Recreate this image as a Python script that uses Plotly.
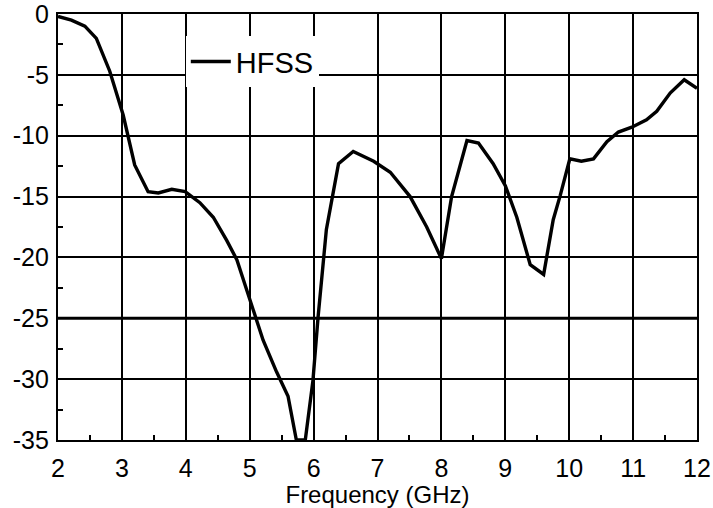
import plotly.graph_objects as go

freq = [2.0, 2.21, 2.42, 2.6, 2.81, 3.02, 3.2, 3.41, 3.57, 3.78, 3.99, 4.22, 4.43,
        4.64, 4.8, 5.0, 5.21, 5.42, 5.6, 5.73, 5.87, 5.99, 6.07, 6.2, 6.39, 6.62,
        6.94, 7.2, 7.51, 7.77, 8.0, 8.16, 8.4, 8.58, 8.81, 9.0, 9.18, 9.39, 9.6,
        9.75, 9.86, 10.01, 10.19, 10.38, 10.59, 10.77, 10.98, 11.21, 11.37, 11.58,
        11.8, 12.0]
s11 = [-0.2, -0.5, -1.0, -2.0, -4.7, -8.3, -12.4, -14.6, -14.7, -14.4, -14.6,
       -15.5, -16.7, -18.6, -20.2, -23.5, -26.8, -29.4, -31.4, -35.0, -35.0,
       -30.1, -24.9, -17.7, -12.3, -11.3, -12.1, -13.0, -15.0, -17.5, -20.1,
       -15.0, -10.4, -10.6, -12.3, -14.1, -16.7, -20.6, -21.4, -16.9, -14.9,
       -11.9, -12.1, -11.9, -10.5, -9.7, -9.3, -8.7, -8.0, -6.5, -5.4, -6.1]

x_ticks = [2, 3, 4, 5, 6, 7, 8, 9, 10, 11, 12]
y_ticks = [0, -5, -10, -15, -20, -25, -30, -35]
ref_level = -25
series_name = "HFSS"
x_title = "Frequency (GHz)"

FONT = "Arial, 'Liberation Sans', sans-serif"

fig = go.Figure()
fig.add_trace(go.Scatter(x=freq, y=s11, mode="lines", name=series_name,
                         line=dict(color="black", width=3.4), showlegend=True))

fig.add_shape(type="line", xref="paper", x0=0, x1=1, yref="y", y0=ref_level, y1=ref_level,
              line=dict(color="black", width=3), layer="below")

fig.update_layout(
    width=713, height=508,
    margin=dict(l=58, r=16, t=14, b=68, autoexpand=False),
    paper_bgcolor="white", plot_bgcolor="white",
    font=dict(family=FONT, color="black", size=24),
    showlegend=True,
    legend=dict(x=0.2, y=0.948, xanchor="left", yanchor="top",
                bgcolor="white", borderwidth=0,
                font=dict(size=29, family=FONT, color="black"),
                itemwidth=40),
)

fig.update_xaxes(
    range=[2, 12], tickvals=x_ticks, ticktext=[str(v) for v in x_ticks],
    showgrid=True, gridcolor="black", gridwidth=1.6,
    showline=True, linecolor="black", linewidth=2.2, mirror=True,
    ticks="inside", ticklen=0, zeroline=False, automargin=False,
    minor=dict(dtick=0.5, ticks="inside", ticklen=5, tickcolor="black", tickwidth=1.5, showgrid=False),
    tickfont=dict(size=25), ticklabeloverflow="allow",
    title=dict(text=x_title, font=dict(size=24), standoff=2),
    ticklabelstandoff=5,
)
fig.update_yaxes(
    range=[-35, 0], tickvals=y_ticks, ticktext=[str(v) for v in y_ticks],
    showgrid=True, gridcolor="black", gridwidth=1.6,
    showline=True, linecolor="black", linewidth=2.2, mirror=True,
    ticks="inside", ticklen=0, zeroline=False, automargin=False,
    minor=dict(dtick=2.5, ticks="inside", ticklen=5, tickcolor="black", tickwidth=1.5, showgrid=False),
    tickfont=dict(size=25), ticklabeloverflow="allow",
    ticklabelstandoff=2,
)

fig.write_html("out.html")
